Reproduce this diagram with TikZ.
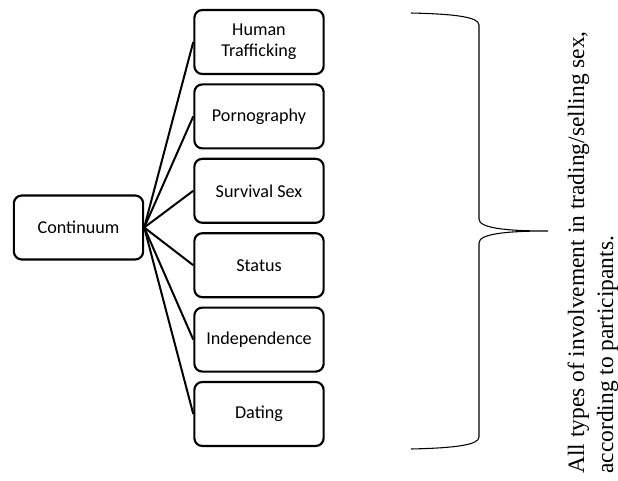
\documentclass[tikz,border=0pt]{standalone}
\usepackage{fontspec}
\setmainfont{Carlito}
\newfontfamily\notefont{Liberation Serif}
\begin{document}
\begin{tikzpicture}[x=0.75pt,y=-0.75pt,
  box/.style={draw=black, line width=1.6pt, rounded corners=6pt,
    minimum width=97pt, minimum height=48pt, inner sep=2pt,
    align=center, font=\fontsize{13.6pt}{16pt}\selectfont},
  link/.style={line width=1.5pt},
  bracket/.style={line width=0.8pt}]
\useasboundingbox (0,0) rectangle (618,481);

% root of the continuum
\node[box] (root) at (78.5,227.5) {Continuum};

% the six forms, from top to bottom
\node[box] (t1) at (259,42)  {Human\\Trafficking};
\node[box] (t2) at (259,116.4) {Pornography};
\node[box] (t3) at (259,190.8) {Survival Sex};
\node[box] (t4) at (259,265.2) {Status};
\node[box] (t5) at (259,339.6) {Independence};
\node[box] (t6) at (259,414) {Dating};

\foreach \n in {t1,t2,t3,t4,t5,t6}
  \draw[link] (root.east) -- (\n.west);

% curly bracket grouping all forms
\coordinate (tip) at (548,231);
\draw[bracket] (411,13) .. controls (455,14) and (479,17) .. (479,25)
  -- (479,219) .. controls (479,228) and (505,231) .. (tip)
  .. controls (505,231) and (479,234) .. (479,243)
  -- (479,437) .. controls (479,445) and (455,448) .. (411,449);

% explanatory note
\node[rotate=90, align=left, inner sep=0pt,
  font=\notefont\fontsize{17.6pt}{21.75pt}\selectfont] (note) at (593,252.5)
  {All types of involvement in trading/selling sex,\\according to participants.};
\end{tikzpicture}
\end{document}
